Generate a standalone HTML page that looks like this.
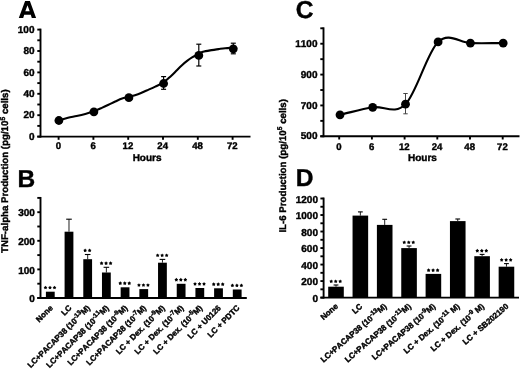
<!DOCTYPE html>
<html><head><meta charset="utf-8"><style>
html,body{margin:0;padding:0;background:#fff;width:520px;height:369px;overflow:hidden}
svg{display:block;filter:grayscale(1)}
text{font-family:"Liberation Sans", sans-serif;font-weight:bold;fill:#000;stroke:#000;stroke-width:0.4px;font-kerning:none;text-rendering:geometricPrecision}
</style></head><body>
<svg width="520" height="369" viewBox="0 0 520 369">
<rect width="520" height="369" fill="#fff"/>
<path fill="#000" fill-rule="evenodd" d="M18.8,17.9 L25.1,0.9 L29.9,0.9 L36.1,17.9 L31.8,17.9 L30.8,14.7 L24.2,14.7 L23.2,17.9 Z M25.3,11.3 L27.5,5.2 L29.7,11.3 Z"/>
<text x="17.50" y="187.20" font-size="24.5" text-anchor="start" >B</text>
<text x="295.80" y="18.20" font-size="24.5" text-anchor="start" >C</text>
<text x="295.80" y="186.40" font-size="24.5" text-anchor="start" >D</text>
<text transform="translate(8.20,253.00) rotate(-90)" font-size="9.7" text-anchor="start">TNF-alpha Production (pg/10<tspan font-size="6.8" dy="-3.6">5</tspan><tspan dy="3.6"> cells)</tspan></text>
<text transform="translate(285.60,232.60) rotate(-90)" font-size="9.7" text-anchor="start">IL-6 Production (pg/10<tspan font-size="6.8" dy="-3.6">5</tspan><tspan dy="3.6"> cells)</tspan></text>
<line x1="40.50" y1="28.65" x2="40.50" y2="137.55" stroke="#000" stroke-width="1.9"/>
<line x1="37.30" y1="136.60" x2="40.50" y2="136.60" stroke="#000" stroke-width="1.9"/>
<line x1="37.30" y1="115.20" x2="40.50" y2="115.20" stroke="#000" stroke-width="1.9"/>
<line x1="37.30" y1="93.80" x2="40.50" y2="93.80" stroke="#000" stroke-width="1.9"/>
<line x1="37.30" y1="72.40" x2="40.50" y2="72.40" stroke="#000" stroke-width="1.9"/>
<line x1="37.30" y1="51.00" x2="40.50" y2="51.00" stroke="#000" stroke-width="1.9"/>
<line x1="37.30" y1="29.60" x2="40.50" y2="29.60" stroke="#000" stroke-width="1.9"/>
<line x1="37.30" y1="125.90" x2="40.50" y2="125.90" stroke="#000" stroke-width="1.9"/>
<line x1="37.30" y1="104.50" x2="40.50" y2="104.50" stroke="#000" stroke-width="1.9"/>
<line x1="37.30" y1="83.10" x2="40.50" y2="83.10" stroke="#000" stroke-width="1.9"/>
<line x1="37.30" y1="61.70" x2="40.50" y2="61.70" stroke="#000" stroke-width="1.9"/>
<line x1="37.30" y1="40.30" x2="40.50" y2="40.30" stroke="#000" stroke-width="1.9"/>
<text x="34.50" y="139.70" font-size="10.0" text-anchor="end" >0</text>
<text x="34.50" y="118.30" font-size="10.0" text-anchor="end" >20</text>
<text x="34.50" y="96.90" font-size="10.0" text-anchor="end" >40</text>
<text x="34.50" y="75.50" font-size="10.0" text-anchor="end" >60</text>
<text x="34.50" y="54.10" font-size="10.0" text-anchor="end" >80</text>
<text x="34.50" y="32.70" font-size="10.0" text-anchor="end" >100</text>
<line x1="37.30" y1="136.60" x2="250.50" y2="136.60" stroke="#000" stroke-width="1.9"/>
<line x1="58.60" y1="136.60" x2="58.60" y2="139.80" stroke="#000" stroke-width="1.9"/>
<text x="58.30" y="149.00" font-size="9.6" text-anchor="middle" >0</text>
<line x1="93.40" y1="136.60" x2="93.40" y2="139.80" stroke="#000" stroke-width="1.9"/>
<text x="93.10" y="149.00" font-size="9.6" text-anchor="middle" >6</text>
<line x1="128.20" y1="136.60" x2="128.20" y2="139.80" stroke="#000" stroke-width="1.9"/>
<text x="127.90" y="149.00" font-size="9.6" text-anchor="middle" >12</text>
<line x1="163.00" y1="136.60" x2="163.00" y2="139.80" stroke="#000" stroke-width="1.9"/>
<text x="162.70" y="149.00" font-size="9.6" text-anchor="middle" >24</text>
<line x1="197.80" y1="136.60" x2="197.80" y2="139.80" stroke="#000" stroke-width="1.9"/>
<text x="197.50" y="149.00" font-size="9.6" text-anchor="middle" >48</text>
<line x1="232.60" y1="136.60" x2="232.60" y2="139.80" stroke="#000" stroke-width="1.9"/>
<text x="232.30" y="149.00" font-size="9.6" text-anchor="middle" >72</text>
<text x="147.10" y="161.30" font-size="10.0" text-anchor="middle" >Hours</text>
<path d="M58.90,120.30 C61.93,119.43 65.05,118.42 68.00,117.70 C70.95,116.98 73.72,116.63 76.60,116.00 C79.48,115.37 82.42,114.70 85.30,113.90 C88.18,113.10 91.15,112.20 93.90,111.20 C96.65,110.20 99.37,108.97 101.80,107.90 C104.23,106.83 106.25,105.87 108.50,104.80 C110.75,103.73 113.03,102.55 115.30,101.50 C117.57,100.45 119.83,99.27 122.10,98.50 C124.37,97.73 126.25,97.60 128.90,96.90 C131.55,96.20 135.05,95.37 138.00,94.30 C140.95,93.23 143.72,91.78 146.60,90.50 C149.48,89.22 152.47,87.97 155.30,86.60 C158.13,85.23 161.02,84.03 163.60,82.30 C166.18,80.57 168.68,78.12 170.80,76.20 C172.92,74.28 174.48,72.60 176.30,70.80 C178.12,69.00 179.90,67.05 181.70,65.40 C183.50,63.75 185.30,62.27 187.10,60.90 C188.90,59.53 190.55,58.35 192.50,57.20 C194.45,56.05 197.05,54.90 198.80,54.00 C200.55,53.10 200.85,52.45 203.00,51.80 C205.15,51.15 209.12,50.55 211.70,50.10 C214.28,49.65 216.25,49.42 218.50,49.10 C220.75,48.78 222.73,48.42 225.20,48.20 C227.67,47.98 230.60,47.93 233.30,47.80" fill="none" stroke="#000" stroke-width="2.1" stroke-linejoin="round"/>
<line x1="163.60" y1="76.60" x2="163.60" y2="89.30" stroke="#000" stroke-width="1.2"/>
<line x1="161.10" y1="76.60" x2="166.10" y2="76.60" stroke="#000" stroke-width="1.2"/>
<line x1="161.10" y1="89.30" x2="166.10" y2="89.30" stroke="#000" stroke-width="1.2"/>
<line x1="198.80" y1="44.20" x2="198.80" y2="66.00" stroke="#000" stroke-width="1.2"/>
<line x1="196.30" y1="44.20" x2="201.30" y2="44.20" stroke="#000" stroke-width="1.2"/>
<line x1="196.30" y1="66.00" x2="201.30" y2="66.00" stroke="#000" stroke-width="1.2"/>
<line x1="233.30" y1="43.20" x2="233.30" y2="53.80" stroke="#000" stroke-width="1.2"/>
<line x1="230.80" y1="43.20" x2="235.80" y2="43.20" stroke="#000" stroke-width="1.2"/>
<line x1="230.80" y1="53.80" x2="235.80" y2="53.80" stroke="#000" stroke-width="1.2"/>
<circle cx="58.90" cy="120.50" r="4.4" fill="#000"/>
<circle cx="93.90" cy="111.80" r="4.4" fill="#000"/>
<circle cx="128.90" cy="97.70" r="4.4" fill="#000"/>
<circle cx="163.60" cy="83.50" r="4.4" fill="#000"/>
<circle cx="198.80" cy="55.40" r="4.4" fill="#000"/>
<circle cx="233.30" cy="48.80" r="4.4" fill="#000"/>
<line x1="323.50" y1="27.35" x2="323.50" y2="137.25" stroke="#000" stroke-width="1.9"/>
<line x1="320.30" y1="136.30" x2="323.50" y2="136.30" stroke="#000" stroke-width="1.9"/>
<line x1="320.30" y1="105.44" x2="323.50" y2="105.44" stroke="#000" stroke-width="1.9"/>
<line x1="320.30" y1="74.59" x2="323.50" y2="74.59" stroke="#000" stroke-width="1.9"/>
<line x1="320.30" y1="43.73" x2="323.50" y2="43.73" stroke="#000" stroke-width="1.9"/>
<line x1="320.30" y1="120.87" x2="323.50" y2="120.87" stroke="#000" stroke-width="1.9"/>
<line x1="320.30" y1="90.01" x2="323.50" y2="90.01" stroke="#000" stroke-width="1.9"/>
<line x1="320.30" y1="59.16" x2="323.50" y2="59.16" stroke="#000" stroke-width="1.9"/>
<line x1="320.30" y1="28.30" x2="323.50" y2="28.30" stroke="#000" stroke-width="1.9"/>
<text x="317.50" y="139.40" font-size="10.0" text-anchor="end" >500</text>
<text x="317.50" y="108.54" font-size="10.0" text-anchor="end" >700</text>
<text x="317.50" y="77.69" font-size="10.0" text-anchor="end" >900</text>
<text x="317.50" y="46.83" font-size="10.0" text-anchor="end" >1100</text>
<line x1="320.30" y1="136.30" x2="519.50" y2="136.30" stroke="#000" stroke-width="1.9"/>
<line x1="339.20" y1="136.30" x2="339.20" y2="139.50" stroke="#000" stroke-width="1.9"/>
<text x="338.90" y="149.50" font-size="9.6" text-anchor="middle" >0</text>
<line x1="371.90" y1="136.30" x2="371.90" y2="139.50" stroke="#000" stroke-width="1.9"/>
<text x="371.60" y="149.50" font-size="9.6" text-anchor="middle" >6</text>
<line x1="404.60" y1="136.30" x2="404.60" y2="139.50" stroke="#000" stroke-width="1.9"/>
<text x="404.30" y="149.50" font-size="9.6" text-anchor="middle" >12</text>
<line x1="437.30" y1="136.30" x2="437.30" y2="139.50" stroke="#000" stroke-width="1.9"/>
<text x="437.00" y="149.50" font-size="9.6" text-anchor="middle" >24</text>
<line x1="470.00" y1="136.30" x2="470.00" y2="139.50" stroke="#000" stroke-width="1.9"/>
<text x="469.70" y="149.50" font-size="9.6" text-anchor="middle" >48</text>
<line x1="502.70" y1="136.30" x2="502.70" y2="139.50" stroke="#000" stroke-width="1.9"/>
<text x="502.40" y="149.50" font-size="9.6" text-anchor="middle" >72</text>
<text x="422.45" y="161.40" font-size="10.0" text-anchor="middle" >Hours</text>
<path d="M340.00,114.80 C350.90,112.30 361.78,109.07 372.70,107.30 C383.62,105.53 394.60,115.10 405.50,104.20 C416.40,93.30 427.28,52.08 438.10,41.90 C448.92,31.72 459.55,42.90 470.40,43.10 C481.25,43.30 492.27,43.10 503.20,43.10" fill="none" stroke="#000" stroke-width="2.1" stroke-linejoin="round"/>
<line x1="405.50" y1="93.50" x2="405.50" y2="113.80" stroke="#444" stroke-width="1.0"/>
<line x1="403.30" y1="93.50" x2="407.70" y2="93.50" stroke="#444" stroke-width="1.0"/>
<line x1="403.30" y1="113.80" x2="407.70" y2="113.80" stroke="#444" stroke-width="1.0"/>
<circle cx="340.00" cy="114.80" r="4.4" fill="#000"/>
<circle cx="372.70" cy="107.30" r="4.4" fill="#000"/>
<circle cx="405.50" cy="104.20" r="4.4" fill="#000"/>
<circle cx="438.10" cy="41.90" r="4.4" fill="#000"/>
<circle cx="470.40" cy="43.10" r="4.4" fill="#000"/>
<circle cx="503.20" cy="43.10" r="4.4" fill="#000"/>
<line x1="40.50" y1="196.95" x2="40.50" y2="298.95" stroke="#000" stroke-width="1.9"/>
<line x1="37.30" y1="298.00" x2="40.50" y2="298.00" stroke="#000" stroke-width="1.9"/>
<line x1="37.30" y1="269.40" x2="40.50" y2="269.40" stroke="#000" stroke-width="1.9"/>
<line x1="37.30" y1="240.80" x2="40.50" y2="240.80" stroke="#000" stroke-width="1.9"/>
<line x1="37.30" y1="212.20" x2="40.50" y2="212.20" stroke="#000" stroke-width="1.9"/>
<line x1="37.30" y1="283.70" x2="40.50" y2="283.70" stroke="#000" stroke-width="1.9"/>
<line x1="37.30" y1="255.10" x2="40.50" y2="255.10" stroke="#000" stroke-width="1.9"/>
<line x1="37.30" y1="226.50" x2="40.50" y2="226.50" stroke="#000" stroke-width="1.9"/>
<line x1="37.30" y1="197.90" x2="40.50" y2="197.90" stroke="#000" stroke-width="1.9"/>
<text x="34.90" y="302.10" font-size="10.0" text-anchor="end" >0</text>
<text x="34.90" y="273.50" font-size="10.0" text-anchor="end" >100</text>
<text x="34.90" y="244.90" font-size="10.0" text-anchor="end" >200</text>
<text x="34.90" y="216.30" font-size="10.0" text-anchor="end" >300</text>
<line x1="37.30" y1="298.00" x2="246.80" y2="298.00" stroke="#000" stroke-width="1.9"/>
<rect x="45.90" y="291.70" width="8.80" height="6.30" fill="#000"/>
<polygon points="45.50,285.75 46.19,286.75 47.35,287.10 46.61,288.06 46.65,289.28 45.50,288.87 44.35,289.28 44.39,288.06 43.65,287.10 44.81,286.75" fill="#000"/>
<polygon points="50.00,285.75 50.69,286.75 51.85,287.10 51.11,288.06 51.15,289.28 50.00,288.87 48.85,289.28 48.89,288.06 48.15,287.10 49.31,286.75" fill="#000"/>
<polygon points="54.50,285.75 55.19,286.75 56.35,287.10 55.61,288.06 55.65,289.28 54.50,288.87 53.35,289.28 53.39,288.06 52.65,287.10 53.81,286.75" fill="#000"/>
<line x1="68.99" y1="219.20" x2="68.99" y2="231.70" stroke="#222" stroke-width="1.0"/>
<line x1="66.19" y1="219.20" x2="71.79" y2="219.20" stroke="#000" stroke-width="1.1"/>
<rect x="64.59" y="231.70" width="8.80" height="66.30" fill="#000"/>
<line x1="87.68" y1="254.50" x2="87.68" y2="259.20" stroke="#222" stroke-width="1.0"/>
<line x1="84.88" y1="254.50" x2="90.48" y2="254.50" stroke="#000" stroke-width="1.1"/>
<rect x="83.28" y="259.20" width="8.80" height="38.80" fill="#000"/>
<polygon points="85.13,248.55 85.82,249.55 86.98,249.90 86.24,250.86 86.28,252.08 85.13,251.67 83.98,252.08 84.02,250.86 83.28,249.90 84.44,249.55" fill="#000"/>
<polygon points="89.63,248.55 90.32,249.55 91.48,249.90 90.74,250.86 90.78,252.08 89.63,251.67 88.48,252.08 88.52,250.86 87.78,249.90 88.94,249.55" fill="#000"/>
<line x1="106.37" y1="267.30" x2="106.37" y2="272.50" stroke="#222" stroke-width="1.0"/>
<line x1="103.57" y1="267.30" x2="109.17" y2="267.30" stroke="#000" stroke-width="1.1"/>
<rect x="101.97" y="272.50" width="8.80" height="25.50" fill="#000"/>
<polygon points="101.57,261.35 102.26,262.35 103.42,262.70 102.68,263.66 102.72,264.88 101.57,264.47 100.42,264.88 100.46,263.66 99.72,262.70 100.88,262.35" fill="#000"/>
<polygon points="106.07,261.35 106.76,262.35 107.92,262.70 107.18,263.66 107.22,264.88 106.07,264.47 104.92,264.88 104.96,263.66 104.22,262.70 105.38,262.35" fill="#000"/>
<polygon points="110.57,261.35 111.26,262.35 112.42,262.70 111.68,263.66 111.72,264.88 110.57,264.47 109.42,264.88 109.46,263.66 108.72,262.70 109.88,262.35" fill="#000"/>
<rect x="120.66" y="287.30" width="8.80" height="10.70" fill="#000"/>
<polygon points="120.26,281.35 120.95,282.35 122.11,282.70 121.37,283.66 121.41,284.88 120.26,284.47 119.11,284.88 119.15,283.66 118.41,282.70 119.57,282.35" fill="#000"/>
<polygon points="124.76,281.35 125.45,282.35 126.61,282.70 125.87,283.66 125.91,284.88 124.76,284.47 123.61,284.88 123.65,283.66 122.91,282.70 124.07,282.35" fill="#000"/>
<polygon points="129.26,281.35 129.95,282.35 131.11,282.70 130.37,283.66 130.41,284.88 129.26,284.47 128.11,284.88 128.15,283.66 127.41,282.70 128.57,282.35" fill="#000"/>
<rect x="139.35" y="289.10" width="8.80" height="8.90" fill="#000"/>
<polygon points="138.95,283.15 139.64,284.15 140.80,284.50 140.06,285.46 140.10,286.68 138.95,286.27 137.80,286.68 137.84,285.46 137.10,284.50 138.26,284.15" fill="#000"/>
<polygon points="143.45,283.15 144.14,284.15 145.30,284.50 144.56,285.46 144.60,286.68 143.45,286.27 142.30,286.68 142.34,285.46 141.60,284.50 142.76,284.15" fill="#000"/>
<polygon points="147.95,283.15 148.64,284.15 149.80,284.50 149.06,285.46 149.10,286.68 147.95,286.27 146.80,286.68 146.84,285.46 146.10,284.50 147.26,284.15" fill="#000"/>
<line x1="162.44" y1="259.40" x2="162.44" y2="262.70" stroke="#222" stroke-width="1.0"/>
<line x1="159.64" y1="259.40" x2="165.24" y2="259.40" stroke="#000" stroke-width="1.1"/>
<rect x="158.04" y="262.70" width="8.80" height="35.30" fill="#000"/>
<polygon points="157.64,253.45 158.33,254.45 159.49,254.80 158.75,255.76 158.79,256.98 157.64,256.57 156.49,256.98 156.53,255.76 155.79,254.80 156.95,254.45" fill="#000"/>
<polygon points="162.14,253.45 162.83,254.45 163.99,254.80 163.25,255.76 163.29,256.98 162.14,256.57 160.99,256.98 161.03,255.76 160.29,254.80 161.45,254.45" fill="#000"/>
<polygon points="166.64,253.45 167.33,254.45 168.49,254.80 167.75,255.76 167.79,256.98 166.64,256.57 165.49,256.98 165.53,255.76 164.79,254.80 165.95,254.45" fill="#000"/>
<rect x="176.73" y="283.80" width="8.80" height="14.20" fill="#000"/>
<polygon points="176.33,277.85 177.02,278.85 178.18,279.20 177.44,280.16 177.48,281.38 176.33,280.97 175.18,281.38 175.22,280.16 174.48,279.20 175.64,278.85" fill="#000"/>
<polygon points="180.83,277.85 181.52,278.85 182.68,279.20 181.94,280.16 181.98,281.38 180.83,280.97 179.68,281.38 179.72,280.16 178.98,279.20 180.14,278.85" fill="#000"/>
<polygon points="185.33,277.85 186.02,278.85 187.18,279.20 186.44,280.16 186.48,281.38 185.33,280.97 184.18,281.38 184.22,280.16 183.48,279.20 184.64,278.85" fill="#000"/>
<rect x="195.42" y="288.00" width="8.80" height="10.00" fill="#000"/>
<polygon points="195.02,282.05 195.71,283.05 196.87,283.40 196.13,284.36 196.17,285.58 195.02,285.17 193.87,285.58 193.91,284.36 193.17,283.40 194.33,283.05" fill="#000"/>
<polygon points="199.52,282.05 200.21,283.05 201.37,283.40 200.63,284.36 200.67,285.58 199.52,285.17 198.37,285.58 198.41,284.36 197.67,283.40 198.83,283.05" fill="#000"/>
<polygon points="204.02,282.05 204.71,283.05 205.87,283.40 205.13,284.36 205.17,285.58 204.02,285.17 202.87,285.58 202.91,284.36 202.17,283.40 203.33,283.05" fill="#000"/>
<rect x="214.11" y="288.30" width="8.80" height="9.70" fill="#000"/>
<polygon points="213.71,282.35 214.40,283.35 215.56,283.70 214.82,284.66 214.86,285.88 213.71,285.47 212.56,285.88 212.60,284.66 211.86,283.70 213.02,283.35" fill="#000"/>
<polygon points="218.21,282.35 218.90,283.35 220.06,283.70 219.32,284.66 219.36,285.88 218.21,285.47 217.06,285.88 217.10,284.66 216.36,283.70 217.52,283.35" fill="#000"/>
<polygon points="222.71,282.35 223.40,283.35 224.56,283.70 223.82,284.66 223.86,285.88 222.71,285.47 221.56,285.88 221.60,284.66 220.86,283.70 222.02,283.35" fill="#000"/>
<rect x="232.80" y="289.50" width="8.80" height="8.50" fill="#000"/>
<polygon points="232.40,283.55 233.09,284.55 234.25,284.90 233.51,285.86 233.55,287.08 232.40,286.67 231.25,287.08 231.29,285.86 230.55,284.90 231.71,284.55" fill="#000"/>
<polygon points="236.90,283.55 237.59,284.55 238.75,284.90 238.01,285.86 238.05,287.08 236.90,286.67 235.75,287.08 235.79,285.86 235.05,284.90 236.21,284.55" fill="#000"/>
<polygon points="241.40,283.55 242.09,284.55 243.25,284.90 242.51,285.86 242.55,287.08 241.40,286.67 240.25,287.08 240.29,285.86 239.55,284.90 240.71,284.55" fill="#000"/>
<text transform="translate(53.30,308.50) rotate(-45)" font-size="8.0" text-anchor="end">None</text>
<text transform="translate(71.99,308.50) rotate(-45)" font-size="8.0" text-anchor="end">LC</text>
<text transform="translate(90.68,308.50) rotate(-45)" font-size="8.0" text-anchor="end">LC+PACAP38 (10<tspan font-size="6.4" dy="-3.2">-13</tspan><tspan dy="3.2">M)</tspan></text>
<text transform="translate(109.37,308.50) rotate(-45)" font-size="8.0" text-anchor="end">LC+PACAP38 (10<tspan font-size="6.4" dy="-3.2">-11</tspan><tspan dy="3.2">M)</tspan></text>
<text transform="translate(128.06,308.50) rotate(-45)" font-size="8.0" text-anchor="end">LC+PACAP38 (10<tspan font-size="6.4" dy="-3.2">-9</tspan><tspan dy="3.2">M)</tspan></text>
<text transform="translate(146.75,308.50) rotate(-45)" font-size="8.0" text-anchor="end">LC+PACAP38 (10<tspan font-size="6.4" dy="-3.2">-7</tspan><tspan dy="3.2">M)</tspan></text>
<text transform="translate(165.44,308.50) rotate(-45)" font-size="8.0" text-anchor="end">LC + Dex. (10<tspan font-size="6.4" dy="-3.2">-9</tspan><tspan dy="3.2">M)</tspan></text>
<text transform="translate(184.13,308.50) rotate(-45)" font-size="8.0" text-anchor="end">LC + Dex. (10<tspan font-size="6.4" dy="-3.2">-7</tspan><tspan dy="3.2">M)</tspan></text>
<text transform="translate(202.82,308.50) rotate(-45)" font-size="8.0" text-anchor="end">LC + Dex. (10<tspan font-size="6.4" dy="-3.2">-5</tspan><tspan dy="3.2">M)</tspan></text>
<text transform="translate(221.51,308.50) rotate(-45)" font-size="8.0" text-anchor="end">LC + U0126</text>
<text transform="translate(240.20,308.50) rotate(-45)" font-size="8.0" text-anchor="end">LC + PDTC</text>
<line x1="323.60" y1="197.55" x2="323.60" y2="298.55" stroke="#000" stroke-width="1.9"/>
<line x1="320.40" y1="297.60" x2="323.60" y2="297.60" stroke="#000" stroke-width="1.9"/>
<line x1="320.40" y1="281.08" x2="323.60" y2="281.08" stroke="#000" stroke-width="1.9"/>
<line x1="320.40" y1="264.57" x2="323.60" y2="264.57" stroke="#000" stroke-width="1.9"/>
<line x1="320.40" y1="248.05" x2="323.60" y2="248.05" stroke="#000" stroke-width="1.9"/>
<line x1="320.40" y1="231.53" x2="323.60" y2="231.53" stroke="#000" stroke-width="1.9"/>
<line x1="320.40" y1="215.02" x2="323.60" y2="215.02" stroke="#000" stroke-width="1.9"/>
<line x1="320.40" y1="198.50" x2="323.60" y2="198.50" stroke="#000" stroke-width="1.9"/>
<line x1="320.40" y1="289.34" x2="323.60" y2="289.34" stroke="#000" stroke-width="1.9"/>
<line x1="320.40" y1="272.83" x2="323.60" y2="272.83" stroke="#000" stroke-width="1.9"/>
<line x1="320.40" y1="256.31" x2="323.60" y2="256.31" stroke="#000" stroke-width="1.9"/>
<line x1="320.40" y1="239.79" x2="323.60" y2="239.79" stroke="#000" stroke-width="1.9"/>
<line x1="320.40" y1="223.28" x2="323.60" y2="223.28" stroke="#000" stroke-width="1.9"/>
<line x1="320.40" y1="206.76" x2="323.60" y2="206.76" stroke="#000" stroke-width="1.9"/>
<text x="318.00" y="301.70" font-size="10.0" text-anchor="end" >0</text>
<text x="318.00" y="285.18" font-size="10.0" text-anchor="end" >200</text>
<text x="318.00" y="268.67" font-size="10.0" text-anchor="end" >400</text>
<text x="318.00" y="252.15" font-size="10.0" text-anchor="end" >600</text>
<text x="318.00" y="235.63" font-size="10.0" text-anchor="end" >800</text>
<text x="318.00" y="219.12" font-size="10.0" text-anchor="end" >1000</text>
<text x="318.00" y="202.60" font-size="10.0" text-anchor="end" >1200</text>
<line x1="320.40" y1="297.60" x2="519.00" y2="297.60" stroke="#000" stroke-width="1.9"/>
<line x1="336.00" y1="285.00" x2="336.00" y2="286.70" stroke="#222" stroke-width="1.0"/>
<line x1="333.60" y1="285.00" x2="338.40" y2="285.00" stroke="#000" stroke-width="1.1"/>
<rect x="328.20" y="286.70" width="15.60" height="10.90" fill="#000"/>
<polygon points="331.20,279.45 331.89,280.45 333.05,280.80 332.31,281.76 332.35,282.98 331.20,282.57 330.05,282.98 330.09,281.76 329.35,280.80 330.51,280.45" fill="#000"/>
<polygon points="335.70,279.45 336.39,280.45 337.55,280.80 336.81,281.76 336.85,282.98 335.70,282.57 334.55,282.98 334.59,281.76 333.85,280.80 335.01,280.45" fill="#000"/>
<polygon points="340.20,279.45 340.89,280.45 342.05,280.80 341.31,281.76 341.35,282.98 340.20,282.57 339.05,282.98 339.09,281.76 338.35,280.80 339.51,280.45" fill="#000"/>
<line x1="360.35" y1="211.90" x2="360.35" y2="215.60" stroke="#222" stroke-width="1.0"/>
<line x1="357.95" y1="211.90" x2="362.75" y2="211.90" stroke="#000" stroke-width="1.1"/>
<rect x="352.55" y="215.60" width="15.60" height="82.00" fill="#000"/>
<line x1="384.70" y1="219.30" x2="384.70" y2="224.90" stroke="#222" stroke-width="1.0"/>
<line x1="382.30" y1="219.30" x2="387.10" y2="219.30" stroke="#000" stroke-width="1.1"/>
<rect x="376.90" y="224.90" width="15.60" height="72.70" fill="#000"/>
<line x1="409.05" y1="246.00" x2="409.05" y2="248.10" stroke="#222" stroke-width="1.0"/>
<line x1="406.65" y1="246.00" x2="411.45" y2="246.00" stroke="#000" stroke-width="1.1"/>
<rect x="401.25" y="248.10" width="15.60" height="49.50" fill="#000"/>
<polygon points="404.25,240.45 404.94,241.45 406.10,241.80 405.36,242.76 405.40,243.98 404.25,243.57 403.10,243.98 403.14,242.76 402.40,241.80 403.56,241.45" fill="#000"/>
<polygon points="408.75,240.45 409.44,241.45 410.60,241.80 409.86,242.76 409.90,243.98 408.75,243.57 407.60,243.98 407.64,242.76 406.90,241.80 408.06,241.45" fill="#000"/>
<polygon points="413.25,240.45 413.94,241.45 415.10,241.80 414.36,242.76 414.40,243.98 413.25,243.57 412.10,243.98 412.14,242.76 411.40,241.80 412.56,241.45" fill="#000"/>
<rect x="425.60" y="273.90" width="15.60" height="23.70" fill="#000"/>
<polygon points="428.60,268.35 429.29,269.35 430.45,269.70 429.71,270.66 429.75,271.88 428.60,271.47 427.45,271.88 427.49,270.66 426.75,269.70 427.91,269.35" fill="#000"/>
<polygon points="433.10,268.35 433.79,269.35 434.95,269.70 434.21,270.66 434.25,271.88 433.10,271.47 431.95,271.88 431.99,270.66 431.25,269.70 432.41,269.35" fill="#000"/>
<polygon points="437.60,268.35 438.29,269.35 439.45,269.70 438.71,270.66 438.75,271.88 437.60,271.47 436.45,271.88 436.49,270.66 435.75,269.70 436.91,269.35" fill="#000"/>
<line x1="457.75" y1="219.00" x2="457.75" y2="221.10" stroke="#222" stroke-width="1.0"/>
<line x1="455.35" y1="219.00" x2="460.15" y2="219.00" stroke="#000" stroke-width="1.1"/>
<rect x="449.95" y="221.10" width="15.60" height="76.50" fill="#000"/>
<line x1="482.10" y1="254.40" x2="482.10" y2="256.20" stroke="#222" stroke-width="1.0"/>
<line x1="479.70" y1="254.40" x2="484.50" y2="254.40" stroke="#000" stroke-width="1.1"/>
<rect x="474.30" y="256.20" width="15.60" height="41.40" fill="#000"/>
<polygon points="477.30,248.85 477.99,249.85 479.15,250.20 478.41,251.16 478.45,252.38 477.30,251.97 476.15,252.38 476.19,251.16 475.45,250.20 476.61,249.85" fill="#000"/>
<polygon points="481.80,248.85 482.49,249.85 483.65,250.20 482.91,251.16 482.95,252.38 481.80,251.97 480.65,252.38 480.69,251.16 479.95,250.20 481.11,249.85" fill="#000"/>
<polygon points="486.30,248.85 486.99,249.85 488.15,250.20 487.41,251.16 487.45,252.38 486.30,251.97 485.15,252.38 485.19,251.16 484.45,250.20 485.61,249.85" fill="#000"/>
<line x1="506.45" y1="263.60" x2="506.45" y2="266.70" stroke="#222" stroke-width="1.0"/>
<line x1="504.05" y1="263.60" x2="508.85" y2="263.60" stroke="#000" stroke-width="1.1"/>
<rect x="498.65" y="266.70" width="15.60" height="30.90" fill="#000"/>
<polygon points="501.65,258.05 502.34,259.05 503.50,259.40 502.76,260.36 502.80,261.58 501.65,261.17 500.50,261.58 500.54,260.36 499.80,259.40 500.96,259.05" fill="#000"/>
<polygon points="506.15,258.05 506.84,259.05 508.00,259.40 507.26,260.36 507.30,261.58 506.15,261.17 505.00,261.58 505.04,260.36 504.30,259.40 505.46,259.05" fill="#000"/>
<polygon points="510.65,258.05 511.34,259.05 512.50,259.40 511.76,260.36 511.80,261.58 510.65,261.17 509.50,261.58 509.54,260.36 508.80,259.40 509.96,259.05" fill="#000"/>
<text transform="translate(338.60,307.20) rotate(-41)" font-size="8.0" text-anchor="end">None</text>
<text transform="translate(362.95,307.20) rotate(-41)" font-size="8.0" text-anchor="end">LC</text>
<text transform="translate(387.30,307.20) rotate(-41)" font-size="8.0" text-anchor="end">LC+PACAP38 (10<tspan font-size="6.4" dy="-3.2">-13</tspan><tspan dy="3.2">M)</tspan></text>
<text transform="translate(411.65,307.20) rotate(-41)" font-size="8.0" text-anchor="end">LC+PACAP38 (10<tspan font-size="6.4" dy="-3.2">-11</tspan><tspan dy="3.2">M)</tspan></text>
<text transform="translate(436.00,307.20) rotate(-41)" font-size="8.0" text-anchor="end">LC+PACAP38 (10<tspan font-size="6.4" dy="-3.2">-9</tspan><tspan dy="3.2">M)</tspan></text>
<text transform="translate(460.35,307.20) rotate(-41)" font-size="8.0" text-anchor="end">LC + Dex. (10<tspan font-size="6.4" dy="-3.2">-11</tspan><tspan dy="3.2"> M)</tspan></text>
<text transform="translate(484.70,307.20) rotate(-41)" font-size="8.0" text-anchor="end">LC + Dex. (10<tspan font-size="6.4" dy="-3.2">-9</tspan><tspan dy="3.2"> M)</tspan></text>
<text transform="translate(509.05,307.20) rotate(-41)" font-size="8.0" text-anchor="end">LC + SB202190</text>
</svg>
</body></html>
